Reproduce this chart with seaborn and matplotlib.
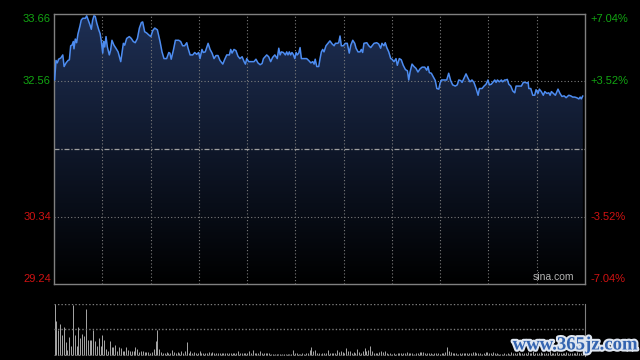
import numpy as np
import pandas as pd
import matplotlib
matplotlib.use("Agg")
import matplotlib.pyplot as plt
import matplotlib.transforms as mtransforms
import matplotlib.patheffects as pe
import seaborn as sns

# ---------------- data ----------------
minutes = [0.3, 0.9, 1.5, 2.1, 3.1, 4.0, 4.6, 5.5, 6.4, 7.0, 7.6, 8.2, 8.8, 9.1, 9.7, 10.3, 10.9,
           11.8, 12.4, 13.1, 14.3, 14.9, 15.5, 16.4, 17.0, 17.6, 18.2, 18.8, 19.5, 20.4, 21.0, 21.5,
           22.2, 22.6, 23.1, 23.7, 24.3, 25.2, 25.8, 26.4, 27.3, 28.2, 29.2, 30.4, 31.0, 31.6, 32.2,
           33.1, 34.3, 35.2, 36.1, 37.0, 38.0, 38.9, 39.8, 40.4, 41.3, 42.2, 43.1, 44.1, 45.0, 45.9,
           47.1, 48.3, 49.2, 50.1, 51.3, 52.3, 52.8, 53.4, 54.4, 55.3, 56.8, 57.7, 58.6, 59.5, 60.5,
           61.0, 62.0, 63.2, 64.1, 65.0, 65.9, 66.5, 67.4, 68.0, 68.9, 70.2, 71.1, 72.0, 72.9, 73.8,
           74.7, 75.6, 76.9, 77.8, 78.7, 79.9, 80.5, 81.1, 82.0, 82.9, 83.8, 84.7, 85.7, 86.6, 87.2,
           87.8, 88.7, 89.9, 91.1, 92.0, 92.9, 93.9, 94.8, 95.4, 96.9, 97.8, 98.7, 99.6, 100.6, 101.7,
           102.4, 103.0, 103.6, 104.5, 105.4, 106.0, 106.6, 107.2, 107.8, 108.4, 109.0, 109.7, 110.3,
           110.8, 111.5, 112.1, 112.7, 113.9, 115.1, 116.0, 117.0, 117.9, 118.5, 119.0, 119.7, 120.6,
           121.2, 121.8, 122.4, 123.0, 123.9, 124.8, 125.7, 126.7, 127.6, 128.2, 129.1, 129.7, 130.3,
           130.9, 131.8, 132.7, 133.6, 134.5, 135.2, 136.1, 137.0, 137.6, 138.5, 139.4, 140.0, 140.6,
           141.2, 142.5, 143.4, 144.3, 144.9, 145.8, 147.0, 147.9, 148.8, 149.4, 150.3, 150.9, 151.6,
           152.5, 153.4, 154.0, 154.9, 155.8, 156.4, 157.3, 158.2, 159.1, 160.1, 161.0, 161.6, 162.2,
           163.1, 164.0, 164.9, 165.8, 166.7, 167.7, 168.9, 169.8, 170.4, 171.0, 171.9, 172.8, 173.7,
           174.4, 175.3, 175.9, 176.5, 177.7, 178.9, 179.8, 180.7, 181.6, 182.8, 183.7, 184.4, 185.3,
           185.9, 186.8, 187.7, 188.6, 189.5, 190.4, 191.3, 192.3, 193.2, 193.8, 195.0, 195.9, 196.8,
           197.7, 198.3, 199.2, 200.1, 200.8, 201.4, 202.0, 202.9, 203.8, 204.4, 205.3, 205.9, 206.5,
           207.2, 208.1, 209.0, 209.9, 210.5, 211.7, 212.9, 213.8, 214.7, 215.4, 216.0, 216.3, 217.2,
           218.1, 219.0, 219.6, 220.5, 221.1, 222.0, 222.9, 223.6, 224.5, 225.4, 226.0, 226.6, 227.5,
           228.4, 229.6, 230.5, 231.4, 232.4, 233.3, 234.5, 235.4, 236.3, 237.2, 238.1, 239.1, 239.7,
           240.2, 240.9]

prices = [32.58, 32.90, 32.86, 32.92, 32.94, 32.99, 32.80, 32.86, 32.90, 32.91, 33.14, 33.15, 33.21,
          33.09, 33.25, 33.19, 33.33, 33.46, 33.56, 33.59, 33.59, 33.63, 33.57, 33.48, 33.41, 33.56,
          33.63, 33.62, 33.51, 33.40, 33.34, 33.23, 33.02, 33.21, 33.12, 33.29, 33.12, 32.99, 33.07,
          33.23, 33.15, 33.10, 33.04, 32.88, 33.03, 33.18, 33.15, 33.26, 33.29, 33.26, 33.21, 33.19,
          33.26, 33.43, 33.52, 33.53, 33.37, 33.35, 33.32, 33.29, 33.39, 33.43, 33.40, 33.21, 33.04,
          32.93, 32.93, 33.03, 33.02, 32.92, 33.07, 33.23, 33.23, 33.21, 33.14, 33.14, 33.19, 33.11,
          32.99, 32.99, 33.03, 33.00, 33.03, 32.93, 33.08, 33.03, 33.04, 33.18, 33.08, 33.02, 32.93,
          32.98, 32.98, 32.90, 32.84, 32.92, 32.99, 32.99, 33.08, 33.02, 33.08, 33.06, 32.97, 32.93,
          32.96, 32.88, 32.84, 32.93, 32.88, 32.88, 32.88, 32.92, 32.86, 32.83, 32.85, 32.93, 32.99,
          32.96, 32.88, 32.95, 32.99, 32.93, 33.10, 32.99, 33.04, 33.03, 32.99, 33.04, 32.99, 33.04,
          32.99, 33.03, 33.00, 32.93, 33.03, 32.99, 33.02, 33.11, 32.93, 32.93, 32.93, 32.90, 32.86,
          32.88, 32.84, 32.92, 32.80, 32.80, 32.93, 33.04, 33.08, 33.04, 33.14, 33.18, 33.22, 33.17,
          33.14, 33.18, 33.18, 33.19, 33.30, 33.14, 33.14, 33.18, 33.18, 33.02, 33.15, 33.23, 33.18,
          33.10, 33.04, 33.04, 33.08, 33.03, 33.18, 33.19, 33.14, 33.11, 33.14, 33.18, 33.19, 33.17,
          33.10, 33.18, 33.14, 33.19, 33.11, 33.04, 32.93, 32.92, 32.88, 32.93, 32.82, 32.93, 32.91,
          32.82, 32.75, 32.73, 32.58, 32.71, 32.84, 32.80, 32.77, 32.71, 32.76, 32.79, 32.79, 32.74,
          32.80, 32.70, 32.69, 32.63, 32.57, 32.44, 32.43, 32.53, 32.58, 32.58, 32.58, 32.69, 32.57,
          32.50, 32.48, 32.50, 32.58, 32.57, 32.54, 32.61, 32.68, 32.61, 32.55, 32.58, 32.54, 32.44,
          32.33, 32.44, 32.44, 32.48, 32.51, 32.58, 32.50, 32.51, 32.55, 32.58, 32.54, 32.58, 32.55,
          32.58, 32.55, 32.58, 32.58, 32.59, 32.51, 32.48, 32.40, 32.37, 32.48, 32.48, 32.48, 32.54,
          32.54, 32.53, 32.54, 32.44, 32.44, 32.33, 32.33, 32.42, 32.36, 32.43, 32.39, 32.33, 32.39,
          32.36, 32.37, 32.33, 32.39, 32.36, 32.33, 32.43, 32.36, 32.31, 32.32, 32.29, 32.33, 32.32,
          32.30, 32.30, 32.29, 32.27, 32.30, 32.27, 32.32]

volume = [149, 99, 74, 90, 57, 81, 37, 15, 52, 27, 147, 57, 27, 81, 49, 60, 54, 135, 44, 44, 44, 72,
          39, 27, 49, 27, 57, 44, 17, 12, 39, 22, 22, 29, 12, 22, 19, 12, 10, 24, 14, 10, 10, 12, 24,
          17, 7, 10, 12, 7, 8, 8, 6, 7, 17, 39, 74, 17, 7, 4, 5, 7, 4, 6, 14, 8, 4, 7, 4, 10, 6, 12,
          36, 6, 10, 6, 9, 6, 6, 10, 4, 6, 4, 6, 8, 4, 8, 4, 6, 4, 6, 4, 4, 6, 6, 4, 6, 4, 4, 6, 12,
          4, 4, 6, 4, 4, 12, 4, 14, 6, 4, 6, 12, 4, 6, 4, 4, 4, 2, 2, 2, 2, 2, 2, 2, 2, 2, 2, 2, 2,
          14, 6, 6, 2, 2, 4, 2, 4, 4, 14, 24, 12, 14, 4, 6, 2, 4, 4, 4, 14, 4, 6, 6, 6,
          14, 7, 12, 7, 4, 20, 12, 12, 4, 8, 4, 17, 7, 4, 10, 20, 10, 14, 26, 12, 4, 6, 4, 7, 12, 8,
          10, 4, 2, 4, 2, 4, 2, 4, 4, 6, 4, 4, 7, 4, 6, 4, 2, 4, 4, 7, 8, 7, 4, 6, 4, 4, 2, 4, 4, 4,
          2, 6, 4, 7, 24, 10, 7, 6, 4, 4, 2, 4, 6, 4, 4, 4, 4, 4, 7, 8, 4, 4, 4, 2, 4, 7, 8, 4, 4, 7,
          4, 4, 2, 2, 2, 4, 2, 4, 2, 7, 6, 6, 4, 8, 6, 4, 6, 4, 8, 4, 6, 10, 4, 6, 4, 8, 6, 4, 6, 4,
          10, 6, 4, 6, 8, 4, 6, 4, 6, 8, 4, 6, 4, 6, 4, 8, 6, 4, 6]

prev_close = 31.45
price_ticks = [33.66, 32.56, 30.34, 29.24]
pct_labels = ["+7.04%", "+3.52%", "-3.52%", "-7.04%"]
price_labels = ["33.66", "32.56", "30.34", "29.24"]

# ---------------- figure ----------------
sns.set_style("dark")
plt.rcParams['font.family'] = ['Liberation Sans', 'DejaVu Sans']

fig = plt.figure(figsize=(6.4, 3.6), dpi=100, facecolor='black')
ax = fig.add_axes([54/640, 1-284/360, 531/640, 270/360])
axv = fig.add_axes([54/640, 1-356/360, 531/640, 52/360])
XMAX = 241.9
YMIN, YMAX = price_ticks[-1], price_ticks[0]

for a in (ax, axv):
    a.set_facecolor('black')
    a.grid(False)
    a.set_xticks([])
    a.set_yticks([])

df = pd.DataFrame({"minute": minutes, "price": prices})

# gradient fill under the line
poly = ax.fill_between(df["minute"], df["price"], YMIN, facecolor='none', edgecolor='none')
top_c = np.array([30, 47, 84]) / 255.0
grad = np.zeros((256, 1, 4))
t = np.linspace(1, 0, 256)[:, None]
grad[:, 0, :3] = t * top_c
grad[:, 0, 3] = 1.0
img = ax.imshow(grad, extent=[0, XMAX, YMIN, YMAX], aspect='auto', origin='upper', zorder=1,
                interpolation='bilinear')
img.set_clip_path(poly.get_paths()[0], transform=ax.transData)

# grid
grid_c = '#7c7c7c'
for k in range(1, 11):
    ax.axvline(XMAX * k / 11, color=grid_c, lw=0.8, ls=(0, (1, 2)), zorder=2)
for yv in price_ticks[1:3]:
    ax.axhline(yv, color=grid_c, lw=0.8, ls=(0, (1, 2)), zorder=2)
ax.axhline(prev_close, color='#a0a0a0', lw=0.9, ls=(0, (4, 1.5, 1, 1.5)), zorder=2)

sns.lineplot(data=df, x="minute", y="price", ax=ax, color='#4d8cf0', lw=1.1, zorder=4,
             sort=False, estimator=None)
ax.set_xlim(0, XMAX)
ax.set_ylim(YMIN, YMAX)
ax.set_xlabel("")
ax.set_ylabel("")
for s in ax.spines.values():
    s.set_visible(True)
    s.set_color('#808080')
    s.set_linewidth(1)

# axis labels
trans_l = mtransforms.blended_transform_factory(ax.transAxes, ax.transData)
vas = ['top', 'center', 'center', 'bottom']
cols = ['#12a512', '#12a512', '#d01212', '#d01212']
for v, lab, plab, va, c in zip(price_ticks, price_labels, pct_labels, vas, cols):
    ax.text(-0.006, v, lab, transform=trans_l, ha='right', va=va, color=c, fontsize=8)
    ax.text(1.0095, v, plab, transform=trans_l, ha='left', va=va, color=c, fontsize=8)

ax.text(0.979, 0.008, "sina.com", transform=ax.transAxes, ha='right', va='bottom',
        color='#b4b4b4', fontsize=7.5, zorder=5)

# volume panel
xv = np.linspace(0.3, 240.9, len(volume))
vol_plot = [max(v, 3) for v in volume]
axv.vlines(xv, 0, vol_plot, color='#a8a8a8', lw=0.7, antialiased=True)
axv.set_xlim(0, XMAX)
axv.set_ylim(-4, 150)
for yv in (149, 74.5, -2.5):
    axv.axhline(yv, color=grid_c, lw=1.0, ls=(0, (1, 1.5)), zorder=2)
for name, s in axv.spines.items():
    s.set_visible(name == 'right')
    s.set_color('#808080')

fig.text(575/640, 1-345/360, "www.365jz.com", ha='center', va='center', color='#3464b0',
         fontsize=13.5, fontweight='bold', family='Liberation Serif',
         path_effects=[pe.withStroke(linewidth=3, foreground='#dfe6f0')])

fig.savefig("out.png", dpi=100, facecolor='black')
